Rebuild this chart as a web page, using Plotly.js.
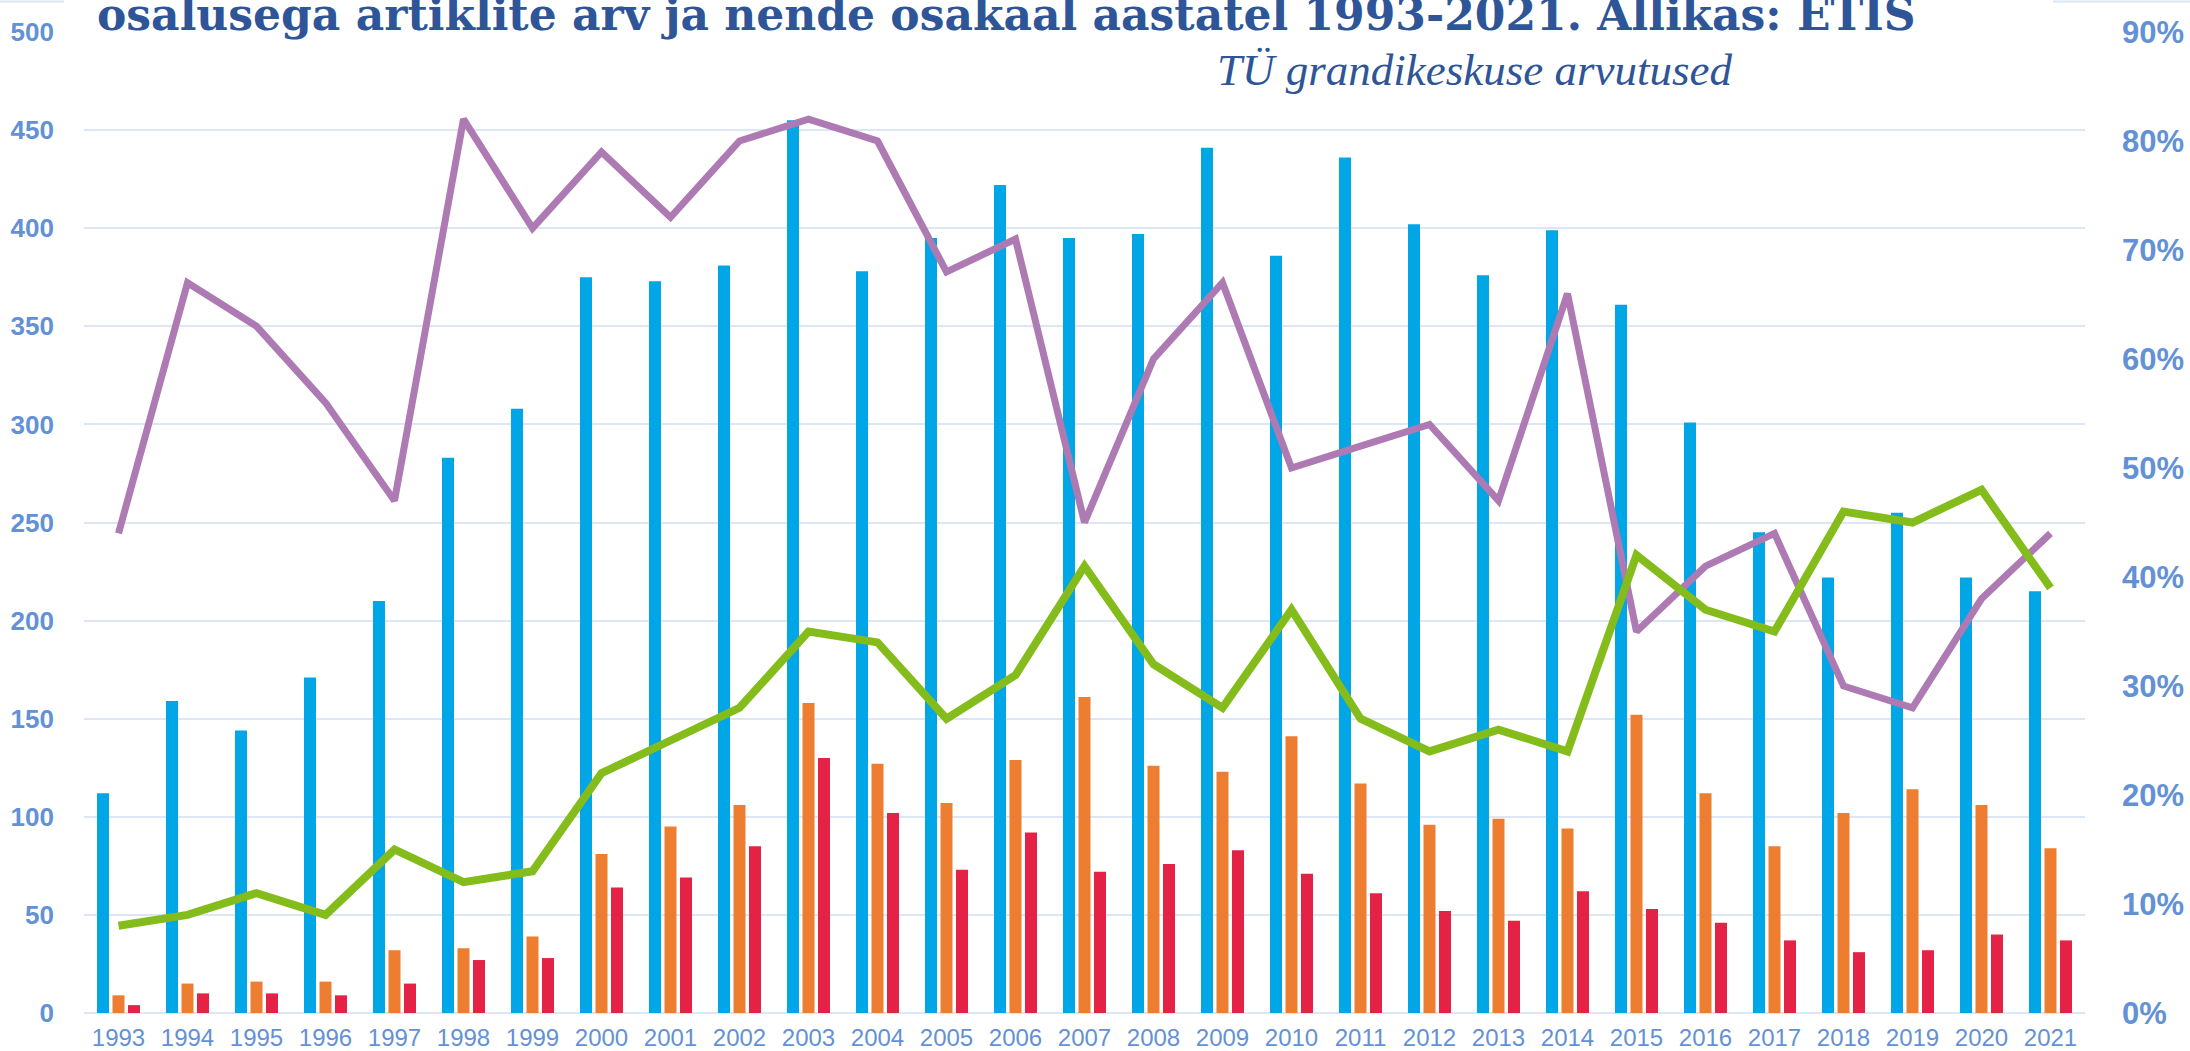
<!DOCTYPE html>
<html>
<head>
<meta charset="utf-8">
<script src="https://cdn.plot.ly/plotly-3.0.1.min.js"></script>
<style>
html,body{margin:0;padding:0;background:#fff;}
#chart{width:2190px;height:1051px;}
</style>
</head>
<body>
<div id="chart"></div>
<script>
// ---- data ----
const years = ["1993","1994","1995","1996","1997","1998","1999","2000","2001","2002","2003","2004","2005","2006","2007","2008","2009","2010","2011","2012","2013","2014","2015","2016","2017","2018","2019","2020","2021"];
const seriesBlue = [112,159,144,171,210,283,308,375,373,381,455,378,395,422,395,397,441,386,436,402,376,399,361,301,245,222,255,222,215];
const seriesOrange = [9,15,16,16,32,33,39,81,95,106,158,127,107,129,161,126,123,141,117,96,99,94,152,112,85,102,114,106,84];
const seriesRed = [4,10,10,9,15,27,28,64,69,85,130,102,73,92,72,76,83,71,61,52,47,62,53,46,37,31,32,40,37];
const sharePurple = [0.44,0.67,0.63,0.56,0.47,0.82,0.72,0.79,0.73,0.80,0.82,0.80,0.68,0.71,0.45,0.60,0.67,0.50,0.52,0.54,0.47,0.66,0.35,0.41,0.44,0.30,0.28,0.38,0.44];
const shareGreen = [0.08,0.09,0.11,0.09,0.15,0.12,0.13,0.22,0.25,0.28,0.35,0.34,0.27,0.31,0.41,0.32,0.28,0.37,0.27,0.24,0.26,0.24,0.42,0.37,0.35,0.46,0.45,0.48,0.39];
const titleText = "osalusega artiklite arv ja nende osakaal aastatel 1993-2021. Allikas: ETIS";
const subtitleText = "TÜ grandikeskuse arvutused";

const axisBlue = "#6391D6";
const gridCol = "#DCE6F4";

const traces = [
  {type:"bar", name:"Artiklid kokku", x:years, y:seriesBlue, marker:{color:"#00A6E6"}},
  {type:"bar", name:"Artiklid (2)", x:years, y:seriesOrange, marker:{color:"#ED7D31"}},
  {type:"bar", name:"Artiklid (3)", x:years, y:seriesRed, marker:{color:"#E32245"}},
  {type:"scatter", mode:"lines", name:"Osakaal (1)", x:years, y:sharePurple, yaxis:"y2",
   line:{color:"#AE7AB3", width:7}},
  {type:"scatter", mode:"lines", name:"Osakaal (2)", x:years, y:shareGreen, yaxis:"y2",
   line:{color:"#84BC1C", width:8}}
];

const layout = {
  width:2190, height:1051,
  margin:{l:84, r:105, t:32, b:38, pad:0},
  paper_bgcolor:"#ffffff", plot_bgcolor:"#ffffff",
  showlegend:false,
  barmode:"group", bargap:0.326, bargroupgap:0.226,
  xaxis:{type:"category", showgrid:false, showline:false, zeroline:false, ticks:"",
    tickfont:{family:"Liberation Sans, Arial, sans-serif", size:24, color:axisBlue},
    ticklabelstandoff:8},
  yaxis:{range:[0,500], dtick:50, showgrid:true, gridcolor:gridCol, gridwidth:2,
    zeroline:true, zerolinecolor:gridCol, zerolinewidth:2, showline:false, ticks:"",
    tickfont:{family:"Liberation Sans, Arial, sans-serif", size:26, color:axisBlue, weight:"bold"},
    ticklabelstandoff:29},
  yaxis2:{overlaying:"y", side:"right", range:[0,0.9], dtick:0.1, tickformat:".0%",
    showgrid:false, zeroline:false, showline:false, ticks:"",
    tickfont:{family:"Liberation Sans, Arial, sans-serif", size:31, color:axisBlue, weight:"bold"},
    ticklabelstandoff:36},
  shapes:[
    {type:"line", xref:"paper", yref:"paper", x0:-0.05, x1:1.06, y0:1.0311, y1:1.0311,
     line:{color:gridCol, width:2}, layer:"above"},
    {type:"rect", xref:"paper", yref:"paper", x0:(64-84)/2001, x1:(2053-84)/2001, y0:(1013-62)/981, y1:1.05,
     fillcolor:"#ffffff", line:{width:0}, layer:"above"}
  ],
  annotations:[
    {text:titleText, xref:"paper", yref:"paper", x:(95-84)/2001, y:(1013-15)/981,
     xanchor:"left", yanchor:"middle", showarrow:false,
     font:{family:"DejaVu Serif, serif", size:44, color:"#2E5597", weight:"bold"}},
    {text:subtitleText, xref:"paper", yref:"paper", x:(1215-84)/2001, y:(1013-70)/981,
     xanchor:"left", yanchor:"middle", showarrow:false,
     font:{family:"Liberation Serif, serif", size:45, color:"#2E5597", style:"italic"}}
  ]
};

Plotly.newPlot("chart", traces, layout, {displayModeBar:false, staticPlot:true});
</script>
</body>
</html>
